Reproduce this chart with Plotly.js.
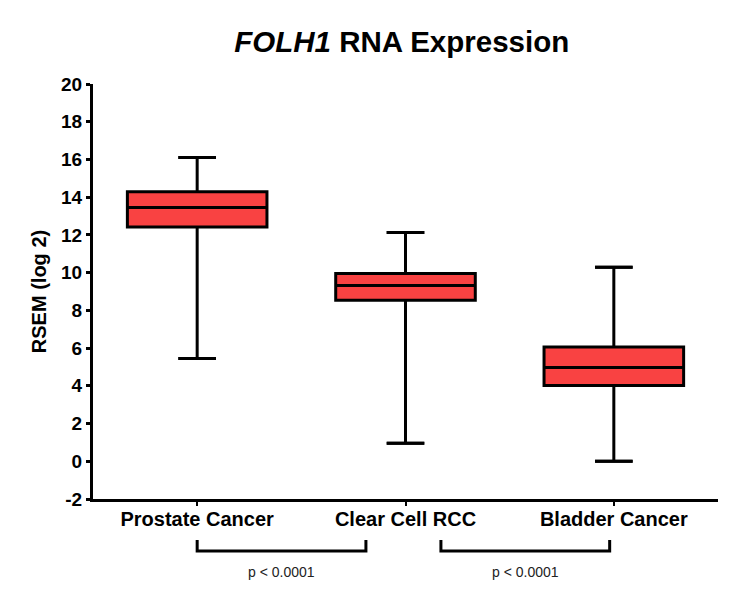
<!DOCTYPE html>
<html>
<head>
<meta charset="utf-8">
<script src="https://cdn.plot.ly/plotly-3.0.1.min.js"></script>
<style>html,body{margin:0;padding:0;background:#fff;}#chart{width:743px;height:602px;}</style>
</head>
<body>
<div id="chart"></div>
<script>
// Data
const categories = ["Prostate Cancer", "Clear Cell RCC", "Bladder Cancer"];
const lowerWhisker = [5.45, 0.95, 0.0];
const q1Values = [12.42, 8.53, 4.02];
const medianValues = [13.45, 9.32, 4.97];
const q3Values = [14.29, 9.95, 6.06];
const upperWhisker = [16.1, 12.13, 10.28];
const yTickValues = [-2, 0, 2, 4, 6, 8, 10, 12, 14, 16, 18, 20];
const comparisons = [["Prostate Cancer", "Clear Cell RCC", "p < 0.0001"], ["Clear Cell RCC", "Bladder Cancer", "p < 0.0001"]];

const FONT = "Liberation Sans, Arial, Helvetica, sans-serif";
const idx = categories.map((c, i) => i);

const trace = {
  type: "box",
  x: idx,
  q1: q1Values,
  median: medianValues,
  q3: q3Values,
  lowerfence: lowerWhisker,
  upperfence: upperWhisker,
  width: 0.67,
  whiskerwidth: 0.27,
  fillcolor: "#F94242",
  line: {color: "#000000", width: 3},
  boxpoints: false,
  hoverinfo: "skip",
  showlegend: false
};

// whisker caps drawn through the x/y axes
const shapes = [];
const capHalf = 0.09;
idx.forEach(i => {
  [lowerWhisker[i], upperWhisker[i]].forEach(v => {
    shapes.push({type: "line", xref: "x", yref: "y", x0: i - capHalf, x1: i + capHalf, y0: v, y1: v,
      line: {color: "#000", width: 3}});
  });
});

const annotations = [];
// comparison brackets below the axis
const bracketOffsets = [[0, -0.19], [0.17, -0.02]];
comparisons.forEach((c, k) => {
  const a = categories.indexOf(c[0]) + bracketOffsets[k][0];
  const b = categories.indexOf(c[1]) + bracketOffsets[k][1];
  shapes.push({type: "path", xref: "x", yref: "paper",
    path: `M ${a} -0.0988 L ${a} -0.1255 L ${b} -0.1255 L ${b} -0.0988`,
    line: {color: "#000", width: 3}});
  annotations.push({xref: "x", yref: "paper", x: (a + b) / 2, y: -0.176, text: c[2], showarrow: false,
    xanchor: "center", yanchor: "middle", font: {family: FONT, size: 14, color: "#222"}});
});

const layout = {
  width: 743, height: 602,
  paper_bgcolor: "#fff", plot_bgcolor: "#fff",
  margin: {l: 93, r: 25, t: 84, b: 103},
  title: {text: "<b><i>FOLH1</i> RNA Expression</b>", font: {family: FONT, size: 29.5, color: "#000"},
    xref: "paper", x: 0.494, xanchor: "center", yref: "container", y: 0.93, yanchor: "middle"},
  xaxis: {
    range: [-0.5, 2.5], tickvals: idx, ticktext: categories.map(c => "<b>" + c + "</b>"),
    showline: true, linecolor: "#000", linewidth: 3, ticks: "outside", ticklen: 4, tickwidth: 2, tickcolor: "#000",
    showgrid: false, zeroline: false, tickfont: {family: FONT, size: 20, color: "#000"}, fixedrange: true,
    ticklabelstandoff: -4
  },
  yaxis: {
    range: [-2, 20], tickvals: yTickValues, ticktext: yTickValues.map(v => "<b>" + v + "</b>"),
    showline: true, linecolor: "#000", linewidth: 3, ticks: "outside", ticklen: 4, tickwidth: 3, tickcolor: "#000",
    showgrid: false, zeroline: false, tickfont: {family: FONT, size: 19, color: "#000"}, fixedrange: true,
    title: {text: "<b>RSEM (log 2)</b>", font: {family: FONT, size: 20, color: "#000"}, standoff: 10}
  },
  shapes: shapes,
  annotations: annotations
};

Plotly.newPlot("chart", [trace], layout, {staticPlot: true, displayModeBar: false});
</script>
</body>
</html>
